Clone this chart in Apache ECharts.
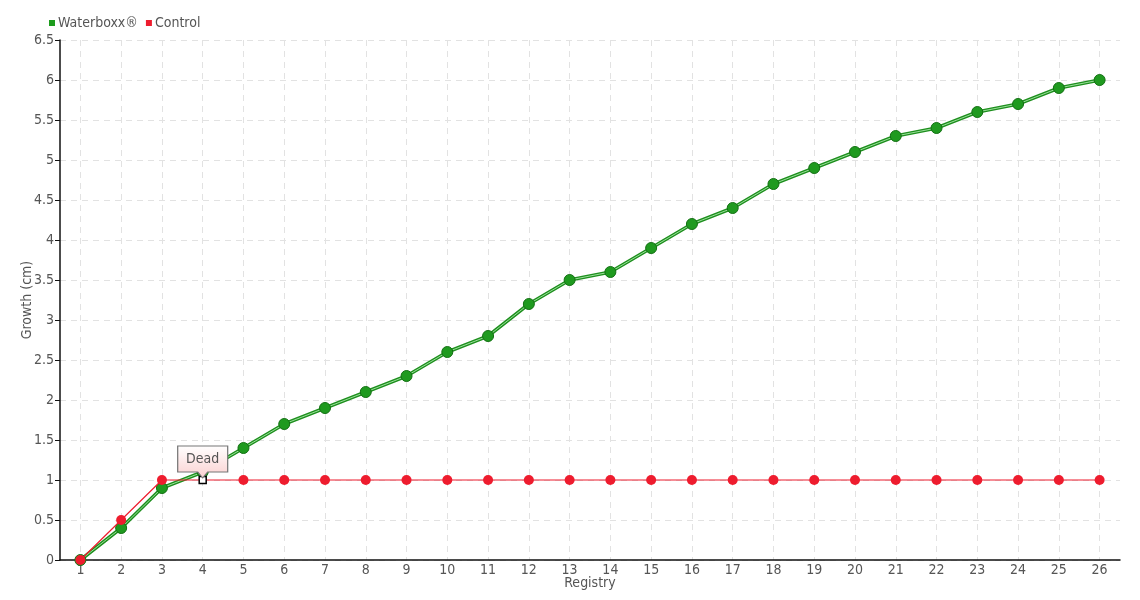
<!DOCTYPE html>
<html><head><meta charset="utf-8">
<script src="https://cdn.jsdelivr.net/npm/echarts@6/dist/echarts.min.js"></script>
<style>html,body{margin:0;padding:0;background:#fff}#c{width:1140px;height:600px}</style>
</head><body><div id="c"></div>
<script>
var categories = ['1','2','3','4','5','6','7','8','9','10','11','12','13','14','15','16','17','18','19','20','21','22','23','24','25','26'];
var waterboxx = [0,0.4,0.9,1.1,1.4,1.7,1.9,2.1,2.3,2.6,2.8,3.2,3.5,3.6,3.9,4.2,4.4,4.7,4.9,5.1,5.3,5.4,5.6,5.7,5.9,6.0];
var control = [0,0.5,1,1,1,1,1,1,1,1,1,1,1,1,1,1,1,1,1,1,1,1,1,1,1,1];
var deadIndex = 3;
var deadLabel = 'Dead';

var FONT = '"Liberation Sans Narrow", "DejaVu Sans Condensed", sans-serif';
var chart = echarts.init(document.getElementById('c'), null, {renderer:'canvas'});
var controlData = control.map(function(v,i){
  if(i===deadIndex){
    return {value:v, symbol:'rect', symbolSize:7, itemStyle:{color:'#fff', borderColor:'#000', borderWidth:1.5}};
  }
  return v;
});
chart.setOption({
  animation:false,
  textStyle:{fontFamily:FONT},
  legend:{
    left:44, top:11, itemWidth:6, itemHeight:6, itemGap:8,
    icon:'rect',
    data:[{name:'Waterboxx®', itemStyle:{color:'#1d9c1d', borderWidth:0}},{name:'Control', itemStyle:{color:'#ee1c2e', borderWidth:0}}],
    textStyle:{color:'#555', fontSize:14, fontFamily:FONT, padding:[0,0,0,-2]}
  },
  grid:{left:60, right:20, top:40, bottom:40, outerBoundsMode:'none', containLabel:false},
  xAxis:{
    type:'category', data:categories, boundaryGap:true,
    name:'Registry', nameLocation:'middle', nameGap:16, nameMoveOverlap:false,
    nameTextStyle:{color:'#555', fontSize:14, fontFamily:FONT},
    axisLine:{lineStyle:{color:'#111', width:1.5}},
    axisTick:{alignWithLabel:true, length:5, lineStyle:{color:'#111'}},
    axisLabel:{color:'#555', fontSize:14, margin:3, fontFamily:FONT},
    splitLine:{show:true, alignWithLabel:true, lineStyle:{color:'#e2e2e2', type:[6,5]}}
  },
  yAxis:{
    type:'value', min:0, max:6.5, interval:0.5,
    name:'Growth (cm)', nameLocation:'middle', nameGap:26, nameRotate:90, nameMoveOverlap:false,
    nameTextStyle:{color:'#555', fontSize:14, fontFamily:FONT},
    axisLine:{show:true, lineStyle:{color:'#111', width:1.5}},
    axisTick:{show:true, length:5, lineStyle:{color:'#111'}},
    axisLabel:{color:'#555', fontSize:14, margin:6, fontFamily:FONT},
    splitLine:{show:true, lineStyle:{color:'#e2e2e2', type:[6,5]}}
  },
  series:[
    {name:'_wb_line', type:'line', data:waterboxx, showSymbol:false, silent:true, z:2,
     lineStyle:{color:'#1e8f1e', width:3.5}},
    {name:'_wb_hl', type:'line', data:waterboxx, showSymbol:false, silent:true, z:2,
     lineStyle:{color:'#9be09b', width:1}},
    {name:'Waterboxx®', type:'line', data:waterboxx, z:3,
     symbol:'circle', symbolSize:11, lineStyle:{width:0, opacity:0},
     itemStyle:{color:'#1f9a1f', borderColor:'#137013', borderWidth:1}},
    {name:'Control', type:'line', data:controlData, z:4,
     symbol:'circle', symbolSize:10,
     lineStyle:{color:'#ee1c2e', width:1.2},
     itemStyle:{color:'#ee1c2e', borderWidth:0},
     markPoint:{
       z:10,
       data:[{coord:[deadIndex, control[deadIndex]], value:deadLabel}],
       symbol:'path://M0,0 L50,0 L50,26 L30,26 L25,32 L20,26 L0,26 Z',
       symbolSize:[50,32], symbolKeepAspect:false, symbolOffset:[0,-18],
       itemStyle:{
         color:new echarts.graphic.LinearGradient(0,0,0,1,[{offset:0,color:'#ffffff'},{offset:1,color:'#fbd0d0'}]),
         borderColor:'#777', borderWidth:1
       },
       label:{show:true, formatter:'{c}', color:'#555', fontSize:14, fontFamily:FONT, offset:[0,-3]}
     }}
  ]
});
</script></body></html>
